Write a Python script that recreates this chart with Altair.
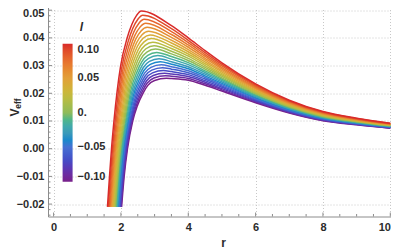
import altair as alt
import pandas as pd

# ---- data ----
L_VALUES = [-0.10, -0.09, -0.08, -0.07, -0.06, -0.05, -0.04, -0.03, -0.02, -0.01, 0.00,
            0.01, 0.02, 0.03, 0.04, 0.05, 0.06, 0.07, 0.08, 0.09, 0.10]

# rising branch: r at which each curve crosses these V levels
RISE_V = [-0.021, -0.010, 0.0, 0.010]
RISE_R = [
    [2.020, 2.096, 2.195, 2.350], [2.004, 2.080, 2.177, 2.329], [1.988, 2.063, 2.159, 2.307],
    [1.971, 2.045, 2.140, 2.285], [1.953, 2.027, 2.120, 2.262], [1.935, 2.008, 2.099, 2.238],
    [1.917, 1.989, 2.078, 2.213], [1.898, 1.970, 2.057, 2.188], [1.878, 1.949, 2.035, 2.162],
    [1.858, 1.928, 2.012, 2.135], [1.837, 1.907, 1.988, 2.108], [1.816, 1.885, 1.964, 2.080],
    [1.794, 1.862, 1.940, 2.051], [1.772, 1.839, 1.914, 2.021], [1.749, 1.815, 1.888, 1.991],
    [1.725, 1.791, 1.862, 1.959], [1.701, 1.766, 1.835, 1.928], [1.677, 1.741, 1.807, 1.895],
    [1.652, 1.715, 1.779, 1.862], [1.626, 1.688, 1.750, 1.828], [1.600, 1.661, 1.720, 1.793],
]
# approach to the maximum (last entry = maximum)
PEAK_R = [
    [2.480, 2.670, 2.800, 3.000, 3.350], [2.462, 2.652, 2.782, 2.980, 3.322],
    [2.443, 2.633, 2.763, 2.959, 3.293], [2.423, 2.613, 2.744, 2.938, 3.262],
    [2.402, 2.592, 2.724, 2.916, 3.231], [2.381, 2.571, 2.703, 2.893, 3.199],
    [2.360, 2.550, 2.682, 2.870, 3.166], [2.338, 2.528, 2.660, 2.846, 3.132],
    [2.315, 2.505, 2.638, 2.821, 3.097], [2.291, 2.481, 2.615, 2.796, 3.061],
    [2.267, 2.457, 2.591, 2.769, 3.024], [2.242, 2.432, 2.567, 2.743, 2.986],
    [2.217, 2.407, 2.542, 2.715, 2.947], [2.191, 2.381, 2.516, 2.687, 2.907],
    [2.164, 2.354, 2.490, 2.658, 2.866], [2.136, 2.326, 2.463, 2.628, 2.824],
    [2.108, 2.298, 2.436, 2.598, 2.781], [2.080, 2.270, 2.408, 2.567, 2.737],
    [2.051, 2.241, 2.379, 2.535, 2.693], [2.021, 2.211, 2.350, 2.503, 2.647],
    [1.990, 2.180, 2.320, 2.470, 2.600],
]
PEAK_V = [
    [0.01524, 0.02032, 0.02286, 0.02464, 0.02540], [0.01579, 0.02106, 0.02369, 0.02553, 0.02632],
    [0.01636, 0.02181, 0.02453, 0.02644, 0.02726], [0.01694, 0.02259, 0.02542, 0.02739, 0.02824],
    [0.01755, 0.02340, 0.02633, 0.02837, 0.02925], [0.01817, 0.02423, 0.02726, 0.02938, 0.03029],
    [0.01882, 0.02509, 0.02822, 0.03042, 0.03136], [0.01948, 0.02598, 0.02922, 0.03150, 0.03247],
    [0.02016, 0.02688, 0.03024, 0.03259, 0.03360], [0.02086, 0.02782, 0.03129, 0.03373, 0.03477],
    [0.02158, 0.02878, 0.03237, 0.03489, 0.03597], [0.02232, 0.02976, 0.03348, 0.03608, 0.03720],
    [0.02308, 0.03077, 0.03461, 0.03731, 0.03846], [0.02386, 0.03181, 0.03578, 0.03857, 0.03976],
    [0.02465, 0.03286, 0.03697, 0.03985, 0.04108], [0.02546, 0.03395, 0.03820, 0.04117, 0.04244],
    [0.02630, 0.03506, 0.03945, 0.04252, 0.04383], [0.02715, 0.03620, 0.04073, 0.04389, 0.04525],
    [0.02802, 0.03736, 0.04203, 0.04530, 0.04670], [0.02891, 0.03855, 0.04337, 0.04674, 0.04819],
    [0.02982, 0.03976, 0.04473, 0.04821, 0.04970],
]
# decaying branch at fixed r
DECAY_R = [3.5, 4.0, 4.5, 5.0, 6.0, 7.0, 8.0, 9.0, 10.0]
DECAY_V = [
    [0.02530, 0.02470, 0.02290, 0.02080, 0.01660, 0.01290, 0.01010, 0.00860, 0.00740],
    [0.02614, 0.02537, 0.02345, 0.02125, 0.01690, 0.01310, 0.01025, 0.00871, 0.00748],
    [0.02699, 0.02605, 0.02400, 0.02170, 0.01720, 0.01331, 0.01039, 0.00881, 0.00756],
    [0.02785, 0.02674, 0.02457, 0.02216, 0.01751, 0.01351, 0.01054, 0.00892, 0.00764],
    [0.02872, 0.02744, 0.02514, 0.02263, 0.01782, 0.01372, 0.01069, 0.00903, 0.00772],
    [0.02961, 0.02815, 0.02572, 0.02310, 0.01814, 0.01394, 0.01085, 0.00914, 0.00781],
    [0.03051, 0.02887, 0.02631, 0.02358, 0.01845, 0.01415, 0.01100, 0.00925, 0.00789],
    [0.03142, 0.02960, 0.02691, 0.02407, 0.01878, 0.01437, 0.01116, 0.00937, 0.00798],
    [0.03234, 0.03034, 0.02751, 0.02456, 0.01911, 0.01460, 0.01132, 0.00949, 0.00806],
    [0.03328, 0.03109, 0.02812, 0.02506, 0.01944, 0.01482, 0.01148, 0.00960, 0.00815],
    [0.03423, 0.03185, 0.02874, 0.02557, 0.01978, 0.01505, 0.01164, 0.00972, 0.00824],
    [0.03519, 0.03262, 0.02937, 0.02608, 0.02012, 0.01528, 0.01181, 0.00984, 0.00833],
    [0.03616, 0.03340, 0.03001, 0.02660, 0.02047, 0.01552, 0.01198, 0.00997, 0.00842],
    [0.03715, 0.03419, 0.03066, 0.02713, 0.02082, 0.01575, 0.01215, 0.01009, 0.00852],
    [0.03815, 0.03499, 0.03131, 0.02766, 0.02117, 0.01599, 0.01232, 0.01021, 0.00861],
    [0.03916, 0.03580, 0.03197, 0.02820, 0.02154, 0.01624, 0.01250, 0.01034, 0.00871],
    [0.04018, 0.03662, 0.03264, 0.02875, 0.02190, 0.01648, 0.01267, 0.01047, 0.00880],
    [0.04122, 0.03745, 0.03332, 0.02930, 0.02227, 0.01673, 0.01285, 0.01060, 0.00890],
    [0.04227, 0.03829, 0.03400, 0.02986, 0.02264, 0.01699, 0.01303, 0.01073, 0.00900],
    [0.04333, 0.03914, 0.03470, 0.03043, 0.02302, 0.01724, 0.01322, 0.01087, 0.00910],
    [0.04440, 0.04000, 0.03540, 0.03100, 0.02340, 0.01750, 0.01340, 0.01100, 0.00920],
]

X_MAJOR = [0, 2, 4, 6, 8, 10]
X_MINOR = [0.5, 1.0, 1.5, 2.5, 3.0, 3.5, 4.5, 5.0, 5.5, 6.5, 7.0, 7.5, 8.5, 9.0, 9.5]
Y_MAJOR = [-0.02, -0.01, 0.0, 0.01, 0.02, 0.03, 0.04, 0.05]
Y_MINOR = [-0.024, -0.022, -0.018, -0.016, -0.014, -0.012, -0.008, -0.006, -0.004, -0.002,
           0.002, 0.004, 0.006, 0.008, 0.012, 0.014, 0.016, 0.018, 0.022, 0.024, 0.026,
           0.028, 0.032, 0.034, 0.036, 0.038, 0.042, 0.044, 0.046, 0.048, 0.052]
LEGEND_VALUES = [-0.10, -0.05, 0.0, 0.05, 0.10]
COLOR_STOPS = [-0.10, -0.075, -0.05, -0.025, 0.0, 0.025, 0.05, 0.075, 0.10]
COLOR_RANGE = ["#78208a", "#4a40c0", "#4670d2", "#52a0b2", "#8fbb5a",
               "#c4bc3e", "#e2a03a", "#e8702f", "#d92b2a"]

# ---- build long table ----
rows = []
for k, l in enumerate(L_VALUES):
    i = 0
    for r, v in zip(RISE_R[k], RISE_V):
        rows.append({"l": l, "r": r, "V": v, "i": i}); i += 1
    for r, v in zip(PEAK_R[k], PEAK_V[k]):
        rows.append({"l": l, "r": r, "V": v, "i": i}); i += 1
    for r, v in zip(DECAY_R, DECAY_V[k]):
        rows.append({"l": l, "r": r, "V": v, "i": i}); i += 1
df = pd.DataFrame(rows)

W, H = 350, 216
FRAME = "#8c8c8c"
TXT = "#2b2b2b"
FONT = "Liberation Sans"

xscale = alt.Scale(domain=[-0.166, 10.229], nice=False, zero=False)
yscale = alt.Scale(domain=[-0.02448, 0.0535], nice=False, zero=False)

X_AXIS = alt.Axis(values=X_MAJOR, format="d", ticks=False, domain=False,
                  grid=True, gridColor="#c8c8c8", gridDash=[1, 2],
                  labelPadding=5, titlePadding=5,
                  labelOffset={"condition": {"test": "datum.value > 9", "value": -6},
                               "value": 0},
                  labelFont=FONT, labelFontSize=11, labelFontWeight="bold", labelColor=TXT,
                  titleFont=FONT, titleFontSize=12, titleFontWeight="bold", titleColor=TXT)
Y_AXIS = alt.Axis(values=Y_MAJOR, format=".2f", ticks=False, domain=False,
                  grid=True, gridColor="#c8c8c8", gridDash=[1, 2],
                  labelPadding=4,
                  labelOffset={"condition": {"test": "datum.value > 0.045", "value": 3},
                               "value": 0},
                  labelFont=FONT, labelFontSize=11, labelFontWeight="bold", labelColor=TXT)

lines = alt.Chart(df).mark_line(interpolate="monotone", strokeWidth=1.5).encode(
    x=alt.X("r:Q", scale=xscale, title="r", axis=X_AXIS),
    y=alt.Y("V:Q", scale=yscale, title=None, axis=Y_AXIS),
    color=alt.Color("l:Q", scale=alt.Scale(domain=COLOR_STOPS, range=COLOR_RANGE),
                    legend=alt.Legend(orient="none", legendX=14.6, legendY=43.2,
                                      title=None, values=LEGEND_VALUES,
                                      gradientLength=138, gradientThickness=10,
                                      gradientStrokeWidth=0, labelOffset=5,
                                      labelBaseline="middle",
                                      labelExpr="datum.value == 0 ? '0.' : format(datum.value, '.2f')",
                                      labelFont=FONT, labelFontSize=11,
                                      labelFontWeight="bold", labelColor=TXT)),
    detail="l:N",
    order="i:Q",
)

def xticks(vals, length, top):
    d = pd.DataFrame({"v": vals})
    y0 = 0 if top else H
    y1 = length if top else H - length
    return alt.Chart(d).mark_rule(color=FRAME, strokeWidth=1).encode(
        x=alt.X("v:Q", scale=xscale, title="r", axis=X_AXIS),
        y=alt.value(y0), y2=alt.value(y1))

def yticks(vals, length, right):
    d = pd.DataFrame({"v": vals})
    x0 = W if right else 0
    x1 = W - length if right else length
    return alt.Chart(d).mark_rule(color=FRAME, strokeWidth=1).encode(
        y=alt.Y("v:Q", scale=yscale, title=None, axis=Y_AXIS),
        x=alt.value(x0), x2=alt.value(x1))

ticks = [xticks(X_MAJOR, 4, False), xticks(X_MINOR, 2.5, False),
         xticks(X_MAJOR, 4, True), xticks(X_MINOR, 2.5, True),
         yticks(Y_MAJOR, 4, False), yticks(Y_MINOR, 2.5, False),
         yticks(Y_MAJOR, 4, True), yticks(Y_MINOR, 2.5, True)]

v_text = alt.Chart(pd.DataFrame({"t": ["V"]})).mark_text(
    angle=270, font=FONT, fontSize=12, fontWeight="bold", color=TXT,
    align="center", baseline="middle").encode(
    text="t:N", x=alt.value(-33), y=alt.value(112))
eff_text = alt.Chart(pd.DataFrame({"t": ["eff"]})).mark_text(
    angle=270, font=FONT, fontSize=8.5, fontWeight="bold", color=TXT,
    align="center", baseline="middle").encode(
    text="t:N", x=alt.value(-30), y=alt.value(103))
l_text = alt.Chart(pd.DataFrame({"t": ["l"]})).mark_text(
    font=FONT, fontSize=12, fontStyle="italic", fontWeight="bold", color=TXT,
    align="center", baseline="middle").encode(
    text="t:N", x=alt.value(33.5), y=alt.value(26.5))

chart = alt.layer(lines, *ticks, v_text, eff_text, l_text).properties(
    width=W, height=H,
    autosize=alt.AutoSizeParams(type="none"),
    padding={"left": 40, "top": -7.5, "right": -7, "bottom": 40},
    background="white",
).configure_view(stroke=FRAME, strokeWidth=1)

chart.save("out.html", embed_options={"renderer": "svg", "actions": False})
